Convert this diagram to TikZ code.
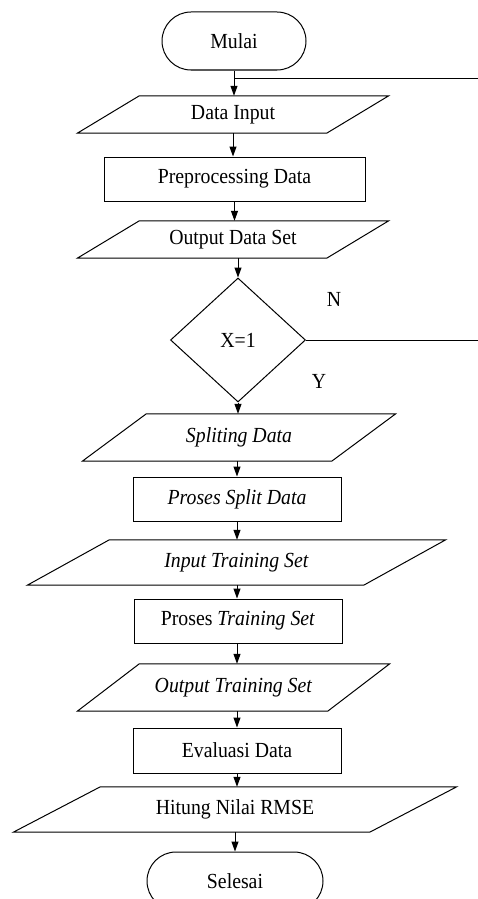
\documentclass[tikz,border=0pt]{standalone}
\usepackage{fontspec}
\setmainfont{Liberation Serif}[FakeStretch=0.92]
\usetikzlibrary{shapes.geometric,shapes.misc,arrows.meta}
\newcommand\drawpara[2]{\draw[shapeline] ([xshift=-#2]#1.south west) -- ([xshift=#2]#1.north west) -- ([xshift=#2]#1.north east) -- ([xshift=-#2]#1.south east) -- cycle;}
\begin{document}
\begin{tikzpicture}[x=1pt,y=-1pt,
  every node/.style={font=\fontsize{21.5}{25}\selectfont, inner sep=0pt},
  shapeline/.style={draw=black, line width=1pt},
  term/.style={shapeline, rounded rectangle},
  proc/.style={shapeline, rectangle, minimum width=208pt, minimum height=44pt},
  iobox/.style={rectangle},
  dec/.style={shapeline, diamond, minimum width=135pt, minimum height=124pt},
  arr/.style={line width=1pt, -{Triangle[width=7pt,length=10pt]}}]
\useasboundingbox (0,0) rectangle (478,899);
\fill[white] (0,0) rectangle (478,899);
\node[term, minimum width=144pt, minimum height=58pt] (mulai) at (234,41) {Mulai};
\node[iobox, minimum width=249pt, minimum height=37pt] (din) at (233,114.5) {Data Input};
\node[proc, minimum width=261pt] (pre) at (234.5,179) {Preprocessing Data};
\node[iobox, minimum width=249pt, minimum height=37pt] (dos) at (233,239.5) {Output Data Set};
\node[dec] (dec) at (238,340) {X=1};
\node[iobox, minimum width=249pt, minimum height=47pt] (spl) at (239,437.5) {\textit{Spliting Data}};
\node[proc] (psd) at (237,499) {\textit{Proses Split Data}};
\node[iobox, minimum width=336pt, minimum height=45pt] (itr) at (236.5,562.5) {\textit{Input Training Set}};
\node[proc] (ptr) at (238,621) {Proses \textit{Training Set}};
\node[iobox, minimum width=250pt, minimum height=47pt] (otr) at (233.5,687.5) {\textit{Output Training Set}};
\node[proc, minimum height=45pt] (eval) at (237,750.5) {Evaluasi Data};
\node[iobox, minimum width=356pt, minimum height=45pt] (rmse) at (235,809.5) {Hitung Nilai RMSE};
\node[term, minimum width=176pt, minimum height=58pt] (sel) at (235,881) {Selesai};
\node (ln) at (334,299) {N};
\node (ly) at (319,381) {Y};
\drawpara{din}{31pt}
\drawpara{dos}{31pt}
\drawpara{spl}{32pt}
\drawpara{itr}{41pt}
\drawpara{otr}{31pt}
\drawpara{rmse}{43.5pt}
\coordinate (j1) at (234,78);
\coordinate (e1) at (478,78);
\coordinate (e2) at (478,340);
\draw[arr] (mulai.south) -- (mulai.south |- din.north);
\draw[shapeline] (j1) -- (e1);
\draw[arr] (din.south) -- (din.south |- pre.north);
\draw[arr] (pre.south) -- (pre.south |- dos.north);
\draw[arr] (dos.south -| dec.north) -- (dec.north);
\draw[shapeline] (dec.east) -- (e2);
\draw[arr] (dec.south) -- (dec.south |- spl.north);
\draw[arr] (psd.north |- spl.south) -- (psd.north);
\draw[arr] (psd.south) -- (psd.south |- itr.north);
\draw[arr] (psd.south |- itr.south) -- (psd.south |- ptr.north);
\draw[arr] (psd.south |- ptr.south) -- (psd.south |- otr.north);
\draw[arr] (eval.north |- otr.south) -- (eval.north);
\draw[arr] (eval.south) -- (eval.south |- rmse.north);
\draw[arr] (sel.north |- rmse.south) -- (sel.north);
\end{tikzpicture}
\end{document}
